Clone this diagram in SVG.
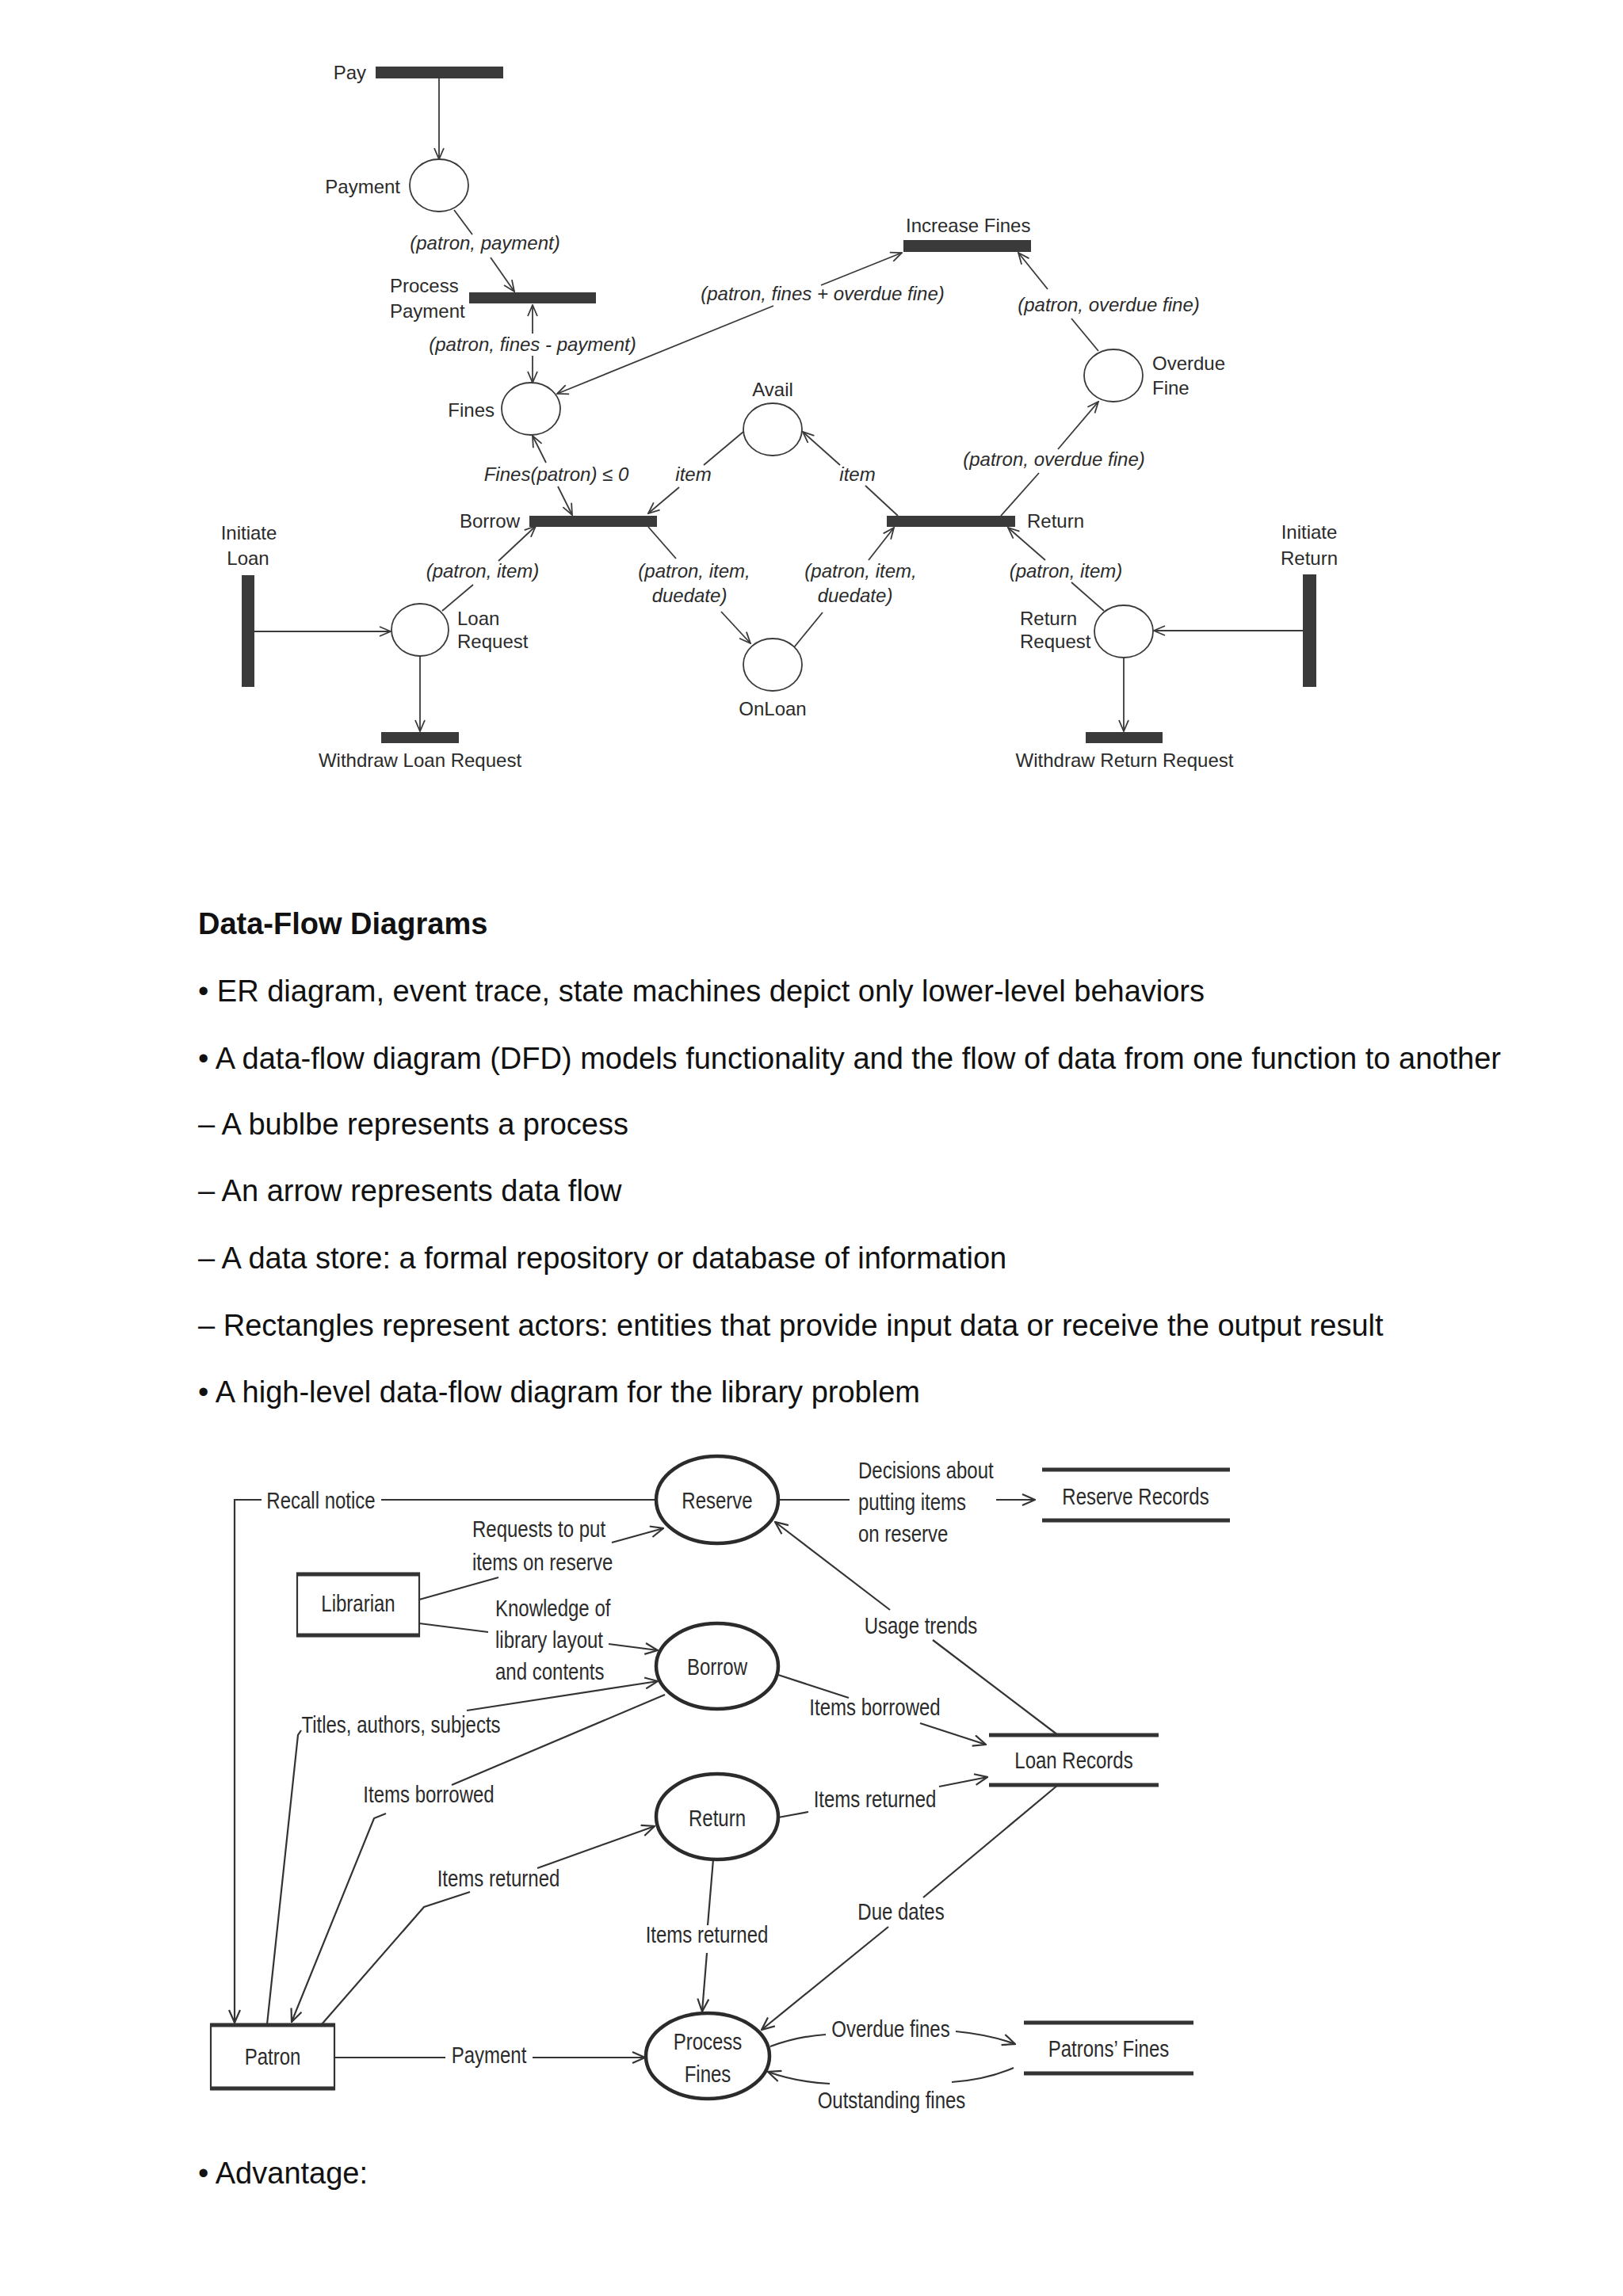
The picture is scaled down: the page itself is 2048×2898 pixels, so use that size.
<svg xmlns="http://www.w3.org/2000/svg" width="2048" height="2898" viewBox="0 0 2048 2898">
<defs>
<style>
.lbl{font-family:"Liberation Sans",Arial,sans-serif;font-size:24px;fill:#2b2b2b}
.it{font-style:italic}
.mid{text-anchor:middle}
.end{text-anchor:end}
.dfd{font-family:"Liberation Sans",Arial,sans-serif;font-size:30px;fill:#2b2b2b}
.body{font-family:"Liberation Sans",Arial,sans-serif;font-size:38px;fill:#111}
.bold{font-weight:bold}
.bar{fill:#3a3a3a}
.place{fill:#fff;stroke:#3a3a3a;stroke-width:1.8}
.e{fill:none;stroke:#3a3a3a;stroke-width:1.8}
.d{fill:none;stroke:#333;stroke-width:2.2}
.proc{fill:#fff;stroke:#2b2b2b;stroke-width:4.5}
.store{stroke:#333;stroke-width:5}
.box{fill:#fff;stroke:#333;stroke-width:2.2}
</style>
<marker id="a" viewBox="0 0 16 14" refX="15" refY="7" markerWidth="16" markerHeight="14" markerUnits="userSpaceOnUse" orient="auto-start-reverse">
<path d="M1,1 L15,7 L1,13" fill="none" stroke="#3a3a3a" stroke-width="1.8"/>
</marker>
<marker id="b" viewBox="0 0 18 16" refX="17" refY="8" markerWidth="18" markerHeight="16" markerUnits="userSpaceOnUse" orient="auto-start-reverse">
<path d="M1,1 L17,8 L1,15" fill="none" stroke="#333" stroke-width="2.2"/>
</marker>
</defs>
<rect width="2048" height="2898" fill="#fff"/>

<!-- ========== Petri net ========== -->
<g id="petri-connectors">
<path class="e" d="M554,99 V201" marker-end="url(#a)"/>
<path class="e" d="M573,265 L596,296"/>
<path class="e" d="M619,325 L649,368" marker-end="url(#a)"/>
<path class="e" d="M672,385 V421" marker-start="url(#a)"/>
<path class="e" d="M672,449 V483" marker-end="url(#a)"/>
<path class="e" d="M703,497 L976,386" marker-start="url(#a)"/>
<path class="e" d="M1036,360 L1138,319" marker-end="url(#a)"/>
<path class="e" d="M1386,443 L1352,402"/>
<path class="e" d="M1322,365 L1285,319" marker-end="url(#a)"/>
<path class="e" d="M1263,651 L1311,597"/>
<path class="e" d="M1335,567 L1386,507" marker-end="url(#a)"/>
<path class="e" d="M672,550 L689,584" marker-start="url(#a)"/>
<path class="e" d="M704,614 L722,650" marker-end="url(#a)"/>
<path class="e" d="M938,545 L888,587"/>
<path class="e" d="M857,615 L818,648" marker-end="url(#a)"/>
<path class="e" d="M1133,651 L1092,613"/>
<path class="e" d="M1060,587 L1013,545" marker-end="url(#a)"/>
<path class="e" d="M558,771 L597,738"/>
<path class="e" d="M629,708 L676,664" marker-end="url(#a)"/>
<path class="e" d="M818,665 L853,705"/>
<path class="e" d="M910,772 L947,812" marker-end="url(#a)"/>
<path class="e" d="M1002,817 L1038,773"/>
<path class="e" d="M1096,707 L1128,666" marker-end="url(#a)"/>
<path class="e" d="M1393,771 L1352,735"/>
<path class="e" d="M1319,707 L1272,666" marker-end="url(#a)"/>
<path class="e" d="M321,797 H493" marker-end="url(#a)"/>
<path class="e" d="M530,828 V923" marker-end="url(#a)"/>
<path class="e" d="M1644,796 H1456" marker-end="url(#a)"/>
<path class="e" d="M1418,830 V923" marker-end="url(#a)"/>
</g>
<g id="petri-edge-labels">
<text class="lbl it mid" x="612" y="315">(patron, payment)</text>
<text class="lbl it mid" x="672" y="443">(patron, fines - payment)</text>
<text class="lbl it mid" x="1038" y="379">(patron, fines + overdue fine)</text>
<text class="lbl it mid" x="1399" y="393">(patron, overdue fine)</text>
<text class="lbl it mid" x="1330" y="588">(patron, overdue fine)</text>
<text class="lbl it mid" x="702" y="607">Fines(patron) ≤ 0</text>
<text class="lbl it mid" x="875" y="607">item</text>
<text class="lbl it mid" x="1082" y="607">item</text>
<text class="lbl it mid" x="609" y="729">(patron, item)</text>
<text class="lbl it mid" x="876" y="729">(patron, item,</text>
<text class="lbl it mid" x="870" y="760">duedate)</text>
<text class="lbl it mid" x="1086" y="729">(patron, item,</text>
<text class="lbl it mid" x="1079" y="760">duedate)</text>
<text class="lbl it mid" x="1345" y="729">(patron, item)</text>
</g>
<g id="t-pay"><rect class="bar" x="474" y="84" width="161" height="15"/><text class="lbl end" x="462" y="100">Pay</text></g>
<g id="p-payment"><ellipse class="place" cx="554" cy="234" rx="37" ry="33"/><text class="lbl end" x="505" y="244">Payment</text></g>
<g id="t-process-payment"><rect class="bar" x="592" y="369" width="160" height="14"/><text class="lbl" x="492" y="369">Process</text><text class="lbl" x="492" y="401">Payment</text></g>
<g id="p-fines"><ellipse class="place" cx="670" cy="516" rx="37" ry="33"/><text class="lbl end" x="624" y="526">Fines</text></g>
<g id="t-increase-fines"><rect class="bar" x="1140" y="303" width="161" height="15"/><text class="lbl" x="1143" y="293">Increase Fines</text></g>
<g id="p-overdue-fine"><ellipse class="place" cx="1405" cy="474" rx="37" ry="33"/><text class="lbl" x="1454" y="467">Overdue</text><text class="lbl" x="1454" y="498">Fine</text></g>
<g id="p-avail"><ellipse class="place" cx="975" cy="542" rx="37" ry="33"/><text class="lbl mid" x="975" y="500">Avail</text></g>
<g id="t-borrow"><rect class="bar" x="668" y="651" width="161" height="14"/><text class="lbl end" x="656" y="666">Borrow</text></g>
<g id="t-return"><rect class="bar" x="1119" y="651" width="162" height="14"/><text class="lbl" x="1296" y="666">Return</text></g>
<g id="t-initiate-loan"><rect class="bar" x="305" y="726" width="16" height="141"/><text class="lbl mid" x="314" y="681">Initiate</text><text class="lbl mid" x="313" y="713">Loan</text></g>
<g id="p-loan-request"><ellipse class="place" cx="530" cy="795" rx="36" ry="33"/><text class="lbl" x="577" y="789">Loan</text><text class="lbl" x="577" y="818">Request</text></g>
<g id="p-onloan"><ellipse class="place" cx="975" cy="839" rx="37" ry="33"/><text class="lbl mid" x="975" y="903">OnLoan</text></g>
<g id="p-return-request"><ellipse class="place" cx="1418" cy="797" rx="37" ry="33"/><text class="lbl" x="1287" y="789">Return</text><text class="lbl" x="1287" y="818">Request</text></g>
<g id="t-initiate-return"><rect class="bar" x="1644" y="725" width="17" height="142"/><text class="lbl mid" x="1652" y="680">Initiate</text><text class="lbl mid" x="1652" y="713">Return</text></g>
<g id="t-withdraw-loan"><rect class="bar" x="481" y="924" width="98" height="14"/><text class="lbl mid" x="530" y="968">Withdraw Loan Request</text></g>
<g id="t-withdraw-return"><rect class="bar" x="1370" y="924" width="97" height="14"/><text class="lbl mid" x="1419" y="968">Withdraw Return Request</text></g>

<!-- ========== Body text ========== -->
<g id="body-text">
<text class="body bold" x="250" y="1179">Data-Flow Diagrams</text>
<text class="body" x="250" y="1264">• ER diagram, event trace, state machines depict only lower-level behaviors</text>
<text class="body" x="250" y="1349">• A data-flow diagram (DFD) models functionality and the flow of data from one function to another</text>
<text class="body" x="250" y="1432">– A bublbe represents a process</text>
<text class="body" x="250" y="1516">– An arrow represents data flow</text>
<text class="body" x="250" y="1601">– A data store: a formal repository or database of information</text>
<text class="body" x="250" y="1686">– Rectangles represent actors: entities that provide input data or receive the output result</text>
<text class="body" x="250" y="1770">• A high-level data-flow diagram for the library problem</text>
<text class="body" x="250" y="2756">• Advantage:</text>
</g>

<!-- ========== DFD ========== -->
<g id="dfd-connectors">
<path class="d" d="M828,1893 H481"/>
<path class="d" d="M330,1893 H296 V2553" marker-end="url(#b)"/>
<path class="d" d="M982,1893 H1072"/>
<path class="d" d="M1257,1893 H1306" marker-end="url(#b)"/>
<path class="d" d="M772,1947 L837,1929" marker-end="url(#b)"/>
<path class="d" d="M529,2019 L629,1991"/>
<path class="d" d="M529,2049 L616,2060"/>
<path class="d" d="M768,2075 L830,2083" marker-end="url(#b)"/>
<path class="d" d="M337,2555 L376,2190 L380,2184"/>
<path class="d" d="M589,2159 L830,2122" marker-end="url(#b)"/>
<path class="d" d="M839,2139 L570,2253"/>
<path class="d" d="M487,2289 L472,2295 L368,2552" marker-end="url(#b)"/>
<path class="d" d="M406,2555 L535,2407 L593,2388"/>
<path class="d" d="M678,2358 L826,2305" marker-end="url(#b)"/>
<path class="d" d="M982,2114 L1071,2143"/>
<path class="d" d="M1161,2175 L1244,2202" marker-end="url(#b)"/>
<path class="d" d="M982,2294 L1020,2287"/>
<path class="d" d="M1185,2255 L1246,2243" marker-end="url(#b)"/>
<path class="d" d="M1335,2190 L1177,2070"/>
<path class="d" d="M1123,2032 L978,1921" marker-end="url(#b)"/>
<path class="d" d="M1335,2253 L1165,2395"/>
<path class="d" d="M1121,2432 L961,2562" marker-end="url(#b)"/>
<path class="d" d="M900,2347 L893,2430"/>
<path class="d" d="M892,2465 L886,2539" marker-end="url(#b)"/>
<path class="d" d="M422,2597 H562"/>
<path class="d" d="M672,2597 H814" marker-end="url(#b)"/>
<path class="d" d="M972,2583 Q1008,2570 1042,2568"/>
<path class="d" d="M1206,2564 Q1248,2568 1281,2580" marker-end="url(#b)"/>
<path class="d" d="M1279,2610 Q1245,2625 1201,2628"/>
<path class="d" d="M1047,2630 Q1005,2628 969,2615" marker-end="url(#b)"/>
</g>
<g id="dfd-edge-labels" class="dfd">
<text transform="translate(405,1904) scale(0.8,1)" text-anchor="middle">Recall notice</text>
<text transform="translate(1083,1866) scale(0.8,1)"><tspan x="0" y="0">Decisions about</tspan><tspan x="0" y="40">putting items</tspan><tspan x="0" y="80">on reserve</tspan></text>
<text transform="translate(596,1940) scale(0.8,1)"><tspan x="0" y="0">Requests to put</tspan><tspan x="0" y="42">items on reserve</tspan></text>
<text transform="translate(625,2040) scale(0.8,1)"><tspan x="0" y="0">Knowledge of</tspan><tspan x="0" y="40">library layout</tspan><tspan x="0" y="80">and contents</tspan></text>
<text transform="translate(1162,2062) scale(0.8,1)" text-anchor="middle">Usage trends</text>
<text transform="translate(1104,2165) scale(0.8,1)" text-anchor="middle">Items borrowed</text>
<text transform="translate(506,2187) scale(0.8,1)" text-anchor="middle">Titles, authors, subjects</text>
<text transform="translate(541,2275) scale(0.8,1)" text-anchor="middle">Items borrowed</text>
<text transform="translate(1104,2281) scale(0.8,1)" text-anchor="middle">Items returned</text>
<text transform="translate(629,2381) scale(0.8,1)" text-anchor="middle">Items returned</text>
<text transform="translate(1137,2423) scale(0.8,1)" text-anchor="middle">Due dates</text>
<text transform="translate(892,2452) scale(0.8,1)" text-anchor="middle">Items returned</text>
<text transform="translate(617,2604) scale(0.8,1)" text-anchor="middle">Payment</text>
<text transform="translate(1124,2571) scale(0.8,1)" text-anchor="middle">Overdue fines</text>
<text transform="translate(1125,2661) scale(0.8,1)" text-anchor="middle">Outstanding fines</text>
</g>
<g id="dfd-reserve"><ellipse class="proc" cx="905" cy="1893" rx="77" ry="55"/><text class="dfd" transform="translate(905,1904) scale(0.8,1)" text-anchor="middle">Reserve</text></g>
<g id="dfd-reserve-records"><line class="store" x1="1315" y1="1855" x2="1552" y2="1855"/><line class="store" x1="1315" y1="1919" x2="1552" y2="1919"/><text class="dfd" transform="translate(1433,1899) scale(0.8,1)" text-anchor="middle">Reserve Records</text></g>
<g id="dfd-librarian"><rect class="box" x="375" y="1986" width="154" height="79"/><line class="store" x1="374" y1="1987" x2="530" y2="1987"/><line class="store" x1="374" y1="2064" x2="530" y2="2064"/><text class="dfd" transform="translate(452,2034) scale(0.8,1)" text-anchor="middle">Librarian</text></g>
<g id="dfd-borrow"><ellipse class="proc" cx="905" cy="2103" rx="77" ry="54"/><text class="dfd" transform="translate(905,2114) scale(0.8,1)" text-anchor="middle">Borrow</text></g>
<g id="dfd-loan-records"><line class="store" x1="1248" y1="2190" x2="1462" y2="2190"/><line class="store" x1="1248" y1="2253" x2="1462" y2="2253"/><text class="dfd" transform="translate(1355,2232) scale(0.8,1)" text-anchor="middle">Loan Records</text></g>
<g id="dfd-return"><ellipse class="proc" cx="905" cy="2293" rx="77" ry="54"/><text class="dfd" transform="translate(905,2305) scale(0.8,1)" text-anchor="middle">Return</text></g>
<g id="dfd-process-fines"><ellipse class="proc" cx="893" cy="2595" rx="78" ry="54"/><text class="dfd" transform="translate(893,2587) scale(0.8,1)" text-anchor="middle">Process</text><text class="dfd" transform="translate(893,2628) scale(0.8,1)" text-anchor="middle">Fines</text></g>
<g id="dfd-patron"><rect class="box" x="266" y="2555" width="156" height="82"/><line class="store" x1="265" y1="2556" x2="423" y2="2556"/><line class="store" x1="265" y1="2636" x2="423" y2="2636"/><text class="dfd" transform="translate(344,2606) scale(0.8,1)" text-anchor="middle">Patron</text></g>
<g id="dfd-patrons-fines"><line class="store" x1="1292" y1="2553" x2="1506" y2="2553"/><line class="store" x1="1292" y1="2617" x2="1506" y2="2617"/><text class="dfd" transform="translate(1399,2596) scale(0.8,1)" text-anchor="middle">Patrons’ Fines</text></g>
</svg>
